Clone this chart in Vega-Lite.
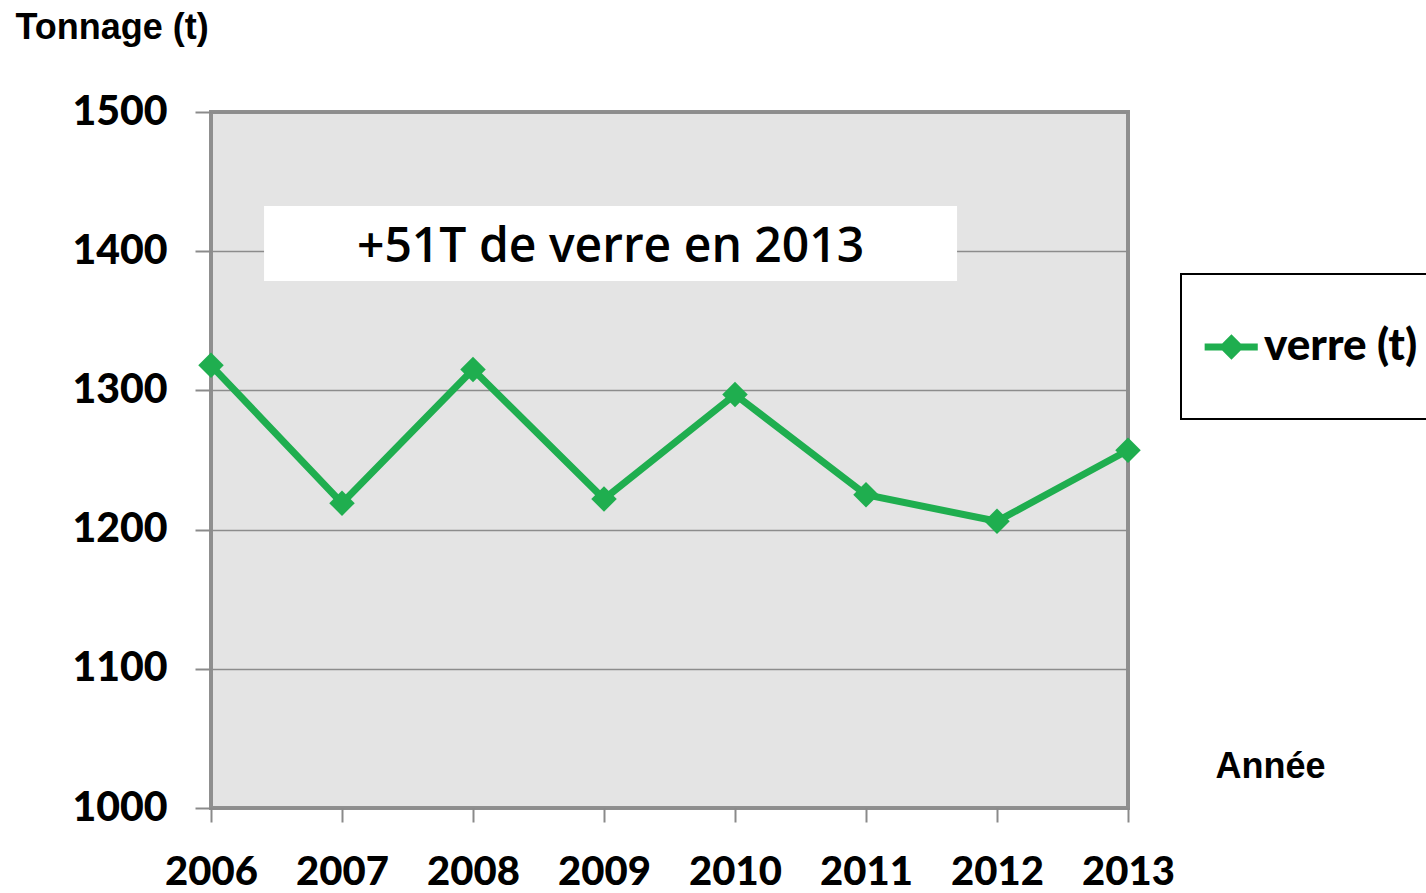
{
  "$schema": "https://vega.github.io/schema/vega-lite/v6.json",
  "width": 917,
  "height": 696,
  "autosize": "none",
  "padding": {"left": 211, "top": 112, "right": 298, "bottom": 85},
  "background": "white",
  "config": {
    "view": {"fill": "#e4e4e4", "stroke": "#8f8f8f", "strokeWidth": 4}
  },
  "layer": [
    {
      "data": {"values": [{"debut": 2006.405, "fin": 2011.695, "bas": 1378.6, "haut": 1432.5}]},
      "mark": {"type": "rect", "fill": "white"},
      "encoding": {
        "x": {"field": "debut", "type": "quantitative", "scale": {"domain": [2006, 2013], "nice": false, "zero": false}},
        "x2": {"field": "fin"},
        "y": {"field": "bas", "type": "quantitative", "scale": {"domain": [1000, 1500], "nice": false, "zero": false}},
        "y2": {"field": "haut"}
      }
    },
    {
      "data": {"values": [{"px": 2009.05, "py": 1402.5, "label": "+51T de verre en 2013"}]},
      "mark": {"type": "text", "font": "Open Sans", "fontWeight": 600, "fontSize": 48, "align": "center", "baseline": "middle", "color": "black"},
      "encoding": {
        "x": {"field": "px", "type": "quantitative"},
        "y": {"field": "py", "type": "quantitative"},
        "text": {"field": "label"}
      }
    },
    {
      "data": {"values": [
        {"annee": 2006, "tonnage": 1318, "serie": "verre (t)"},
        {"annee": 2007, "tonnage": 1219, "serie": "verre (t)"},
        {"annee": 2008, "tonnage": 1315, "serie": "verre (t)"},
        {"annee": 2009, "tonnage": 1222, "serie": "verre (t)"},
        {"annee": 2010, "tonnage": 1297, "serie": "verre (t)"},
        {"annee": 2011, "tonnage": 1225, "serie": "verre (t)"},
        {"annee": 2012, "tonnage": 1206, "serie": "verre (t)"},
        {"annee": 2013, "tonnage": 1257, "serie": "verre (t)"}
      ]},
      "mark": {"type": "line", "strokeWidth": 7, "point": {"shape": "diamond", "size": 650, "filled": true, "opacity": 1}},
      "encoding": {
        "x": {
          "field": "annee", "type": "quantitative",
          "axis": {
            "values": [2006, 2007, 2008, 2009, 2010, 2011, 2012, 2013],
            "format": "d",
            "grid": false,
            "domain": false,
            "labelOverlap": false, "labelFlush": false, "labelBound": false,
            "tickColor": "#8a8a8a", "tickSize": 14, "tickWidth": 2,
            "labelFont": "Lato", "labelFontWeight": 900, "labelFontSize": 40, "labelColor": "black",
            "labelPadding": 30, "labelBaseline": "top",
            "title": "Année",
            "titleFont": "Liberation Sans", "titleFontWeight": "bold", "titleFontSize": 36, "titleColor": "black",
            "titleAnchor": "start", "titleAlign": "left", "titleBaseline": "middle",
            "titleX": 1004, "titleY": -42
          }
        },
        "y": {
          "field": "tonnage", "type": "quantitative",
          "axis": {
            "values": [1000, 1100, 1200, 1300, 1400, 1500],
            "format": "d",
            "grid": true, "gridColor": "#8c8c8c", "gridWidth": 1.5,
            "domain": false,
            "labelOverlap": false, "labelFlush": false, "labelBound": false,
            "tickColor": "#8a8a8a", "tickSize": 16, "tickWidth": 2,
            "labelFont": "Lato", "labelFontWeight": 900, "labelFontSize": 41, "labelColor": "black",
            "labelPadding": 28,
            "title": "Tonnage (t)",
            "titleFont": "Liberation Sans", "titleFontWeight": "bold", "titleFontSize": 36, "titleColor": "black",
            "titleAngle": 0, "titleAlign": "left", "titleBaseline": "middle",
            "titleX": -196, "titleY": -85
          }
        },
        "color": {
          "field": "serie", "type": "nominal",
          "scale": {"range": ["#1fae4f"]},
          "legend": {
            "orient": "none", "legendX": 970, "legendY": 162,
            "title": " ", "titleOrient": "bottom", "titleFontSize": 20, "titlePadding": 4,
            "strokeColor": "black", "fillColor": "white",
            "padding": 26,
            "symbolType": "M-1.05,-0.075H0.08V0.075H-1.05Z M-0.48,-0.27L-0.21,0L-0.48,0.27L-0.75,0Z",
            "symbolSize": 8836,
            "symbolStrokeWidth": 0,
            "symbolFillColor": "#1fae4f",
            "labelOffset": -37,
            "labelFont": "Lato", "labelFontWeight": 900, "labelFontSize": 44, "labelColor": "black",
            "encode": {"legend": {"update": {"strokeWidth": {"value": 2}}}}
          }
        }
      }
    }
  ]
}
